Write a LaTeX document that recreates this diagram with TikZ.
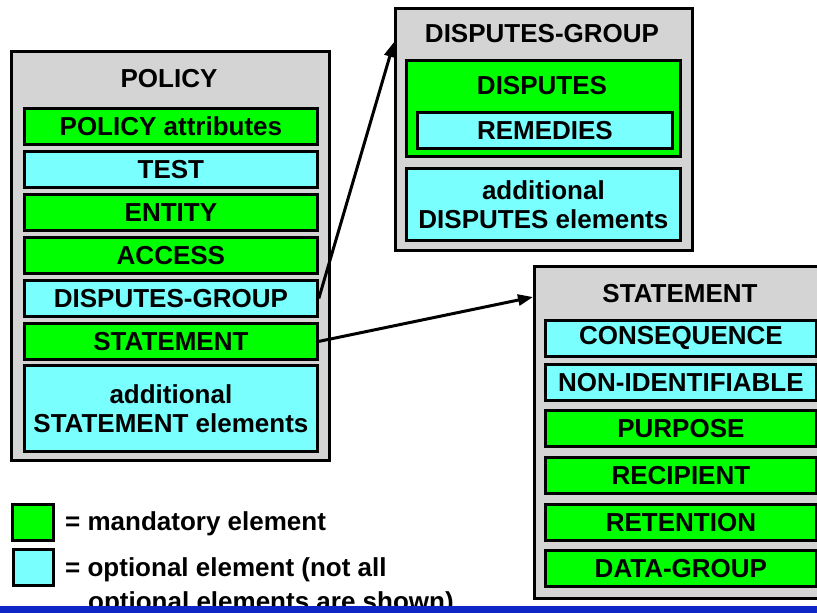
\documentclass[tikz,border=0pt]{standalone}
\usepackage{fontspec}
\setmainfont{Liberation Sans}
\usetikzlibrary{arrows.meta}

\definecolor{boxgrey}{RGB}{212,212,212}
\definecolor{mandgreen}{RGB}{0,255,0}
\definecolor{optcyan}{RGB}{122,255,255}
\definecolor{barblue}{RGB}{14,38,198}

\tikzset{
  lbl/.style={font=\bfseries\fontsize{26}{29}\selectfont, inner sep=0pt, align=center},
  frame/.style={draw=black, line width=2.8pt, fill=boxgrey, inner sep=0pt, anchor=north west},
  mand/.style={lbl, draw=black, line width=2.8pt, fill=mandgreen, anchor=north west},
  opt/.style={lbl, draw=black, line width=2.8pt, fill=optcyan, anchor=north west},
  link/.style={line width=3pt, -{Triangle[length=15pt,width=11pt]}},
}

\begin{document}
\begin{tikzpicture}[x=1pt,y=-1pt]
\clip (0,0) rectangle (817,613);
\fill[white] (0,0) rectangle (817,613);

% POLICY element and its children
\node[frame, minimum width=318pt, minimum height=409pt] (policy) at (10,50) {};
\node[lbl] (policyT) at (169,79) {POLICY};
\node[mand, minimum width=293pt, minimum height=36pt] (pAttr) at (23,107) {POLICY attributes};
\node[opt,  minimum width=293pt, minimum height=36pt] (pTest) at (23,150) {TEST};
\node[mand, minimum width=293pt, minimum height=36pt] (pEnt)  at (23,193) {ENTITY};
\node[mand, minimum width=293pt, minimum height=36pt] (pAcc)  at (23,236) {ACCESS};
\node[opt,  minimum width=293pt, minimum height=36pt] (pDG)   at (23,279) {DISPUTES-GROUP};
\node[mand, minimum width=293pt, minimum height=36pt] (pSt)   at (23,322) {STATEMENT};
\node[opt,  minimum width=293pt, minimum height=86pt] (pAdd)  at (23,364) {additional\\STATEMENT elements};

% DISPUTES-GROUP element
\node[frame, minimum width=297pt, minimum height=242pt] (dg) at (394,7) {};
\node[lbl] (dgT) at (542,34) {DISPUTES-GROUP};
\node[mand, minimum width=274pt, minimum height=96pt] (dDisp) at (405,59) {};
\node[lbl] (dDispT) at (542,86) {DISPUTES};
\node[opt, minimum width=255pt, minimum height=36pt] (dRem) at (416,111) {REMEDIES};
\node[opt, minimum width=274pt, minimum height=72pt] (dAdd) at (405,167) {additional\\DISPUTES elements};

% STATEMENT element
\node[frame, minimum width=293pt, minimum height=332pt] (st) at (533,265) {};
\node[lbl] (stT) at (680,294) {STATEMENT};
\node[opt,  minimum width=271pt, minimum height=36pt] (sCons) at (544,319) {CONSEQUENCE};
\node[opt,  minimum width=271pt, minimum height=36pt] (sNon)  at (544,363) {NON-IDENTIFIABLE};
\node[mand, minimum width=271pt, minimum height=36pt] (sPur)  at (544,409) {PURPOSE};
\node[mand, minimum width=271pt, minimum height=36pt] (sRec)  at (544,456) {RECIPIENT};
\node[mand, minimum width=271pt, minimum height=36pt] (sRet)  at (544,503) {RETENTION};
\node[mand, minimum width=271pt, minimum height=36pt] (sData) at (544,549) {DATA-GROUP};

% connectors from the POLICY children to their expansions
\draw[link] (pDG.east) -- ([yshift=-35pt]dg.north west);
\draw[link] (pSt.east) -- ([yshift=-32pt]st.north west);

% legend
\node[mand, minimum width=41pt, minimum height=36pt] (legG) at (11,503) {};
\node[opt,  minimum width=40pt, minimum height=36pt] (legC) at (12,548) {};
\node[lbl, anchor=base west] (legM)  at (65,530) {= mandatory element};
\node[lbl, anchor=base west] (legO)  at (65,576) {= optional element (not all};
\node[lbl, anchor=base west] (legO2) at (88,610) {optional elements are shown)};

% bottom band
\fill[barblue] (0,606) rectangle (817,613);
\end{tikzpicture}
\end{document}
